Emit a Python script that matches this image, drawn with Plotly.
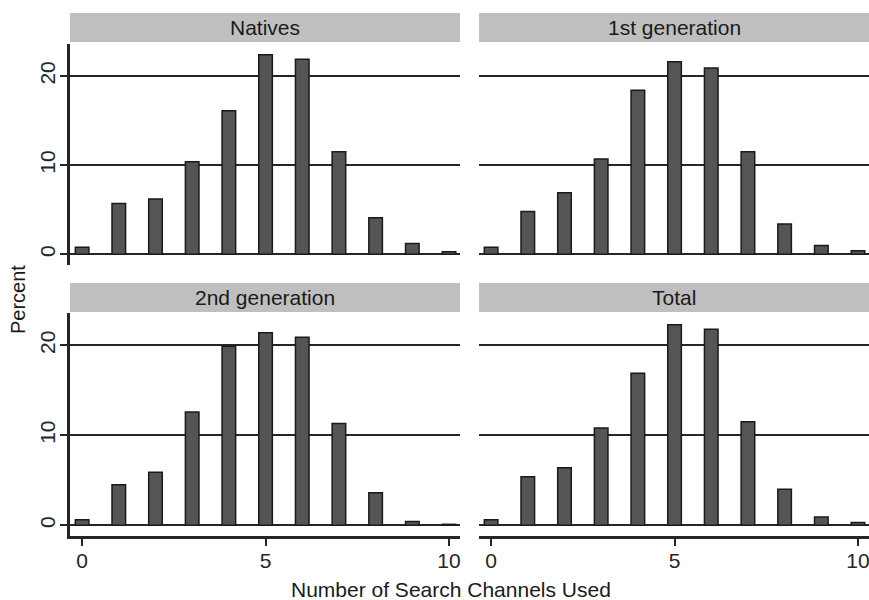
import plotly.graph_objects as go

channels = list(range(11))
natives = [0.8, 5.7, 6.2, 10.4, 16.1, 22.4, 21.9, 11.5, 4.1, 1.2, 0.3]
first_gen = [0.8, 4.8, 6.9, 10.7, 18.4, 21.6, 20.9, 11.5, 3.4, 1.0, 0.4]
second_gen = [0.6, 4.5, 5.9, 12.6, 19.9, 21.4, 20.9, 11.3, 3.6, 0.4, 0.1]
total = [0.6, 5.4, 6.4, 10.8, 16.9, 22.3, 21.8, 11.5, 4.0, 0.9, 0.3]
panel_titles = ["Natives", "1st generation", "2nd generation", "Total"]
x_ticks = [0, 5, 10]
y_ticks = [0, 10, 20]

W, H = 869, 600
FONT = "Liberation Sans, Arial, sans-serif"
DARK = "#262626"

def px_x(v):
    return v / W

def px_y(v):
    return 1 - v / H

# panel domains (pixel based)
x_left = [px_x(70), px_x(460)]
x_right = [px_x(479), 1.0]
y_top = [px_y(265), px_y(44)]
y_bot = [px_y(536), px_y(313)]

panels = [
    (natives, "x", "y", x_left, y_top, True, False),
    (first_gen, "x2", "y2", x_right, y_top, False, False),
    (second_gen, "x3", "y3", x_left, y_bot, True, True),
    (total, "x4", "y4", x_right, y_bot, False, True),
]

fig = go.Figure()
layout = {}
for i, (vals, xa, ya, xd, yd, left, bottom) in enumerate(panels):
    fig.add_trace(go.Bar(
        x=channels, y=vals, xaxis=xa, yaxis=ya, width=0.37,
        marker=dict(color="#555555", line=dict(color="#1a1a1a", width=1.5)),
        showlegend=False,
    ))
    xkey = "xaxis" if i == 0 else f"xaxis{i+1}"
    ykey = "yaxis" if i == 0 else f"yaxis{i+1}"
    layout[xkey] = dict(
        domain=xd, anchor=ya, range=[-0.33, 10.3],
        showgrid=False, zeroline=False,
        showline=bottom, linecolor=DARK, linewidth=2.5,
        ticks="outside" if bottom else "", ticklen=7, tickwidth=2, tickcolor=DARK,
        tickvals=x_ticks, showticklabels=bottom, ticklabeloverflow="allow",
        ticklabelstandoff=-3,
        tickfont=dict(family=FONT, size=21, color=DARK),
    )
    layout[ykey] = dict(
        domain=yd, anchor=xa, range=[-1.2, 23.6],
        showgrid=True, gridcolor=DARK, gridwidth=2,
        zeroline=False,
        showline=left, linecolor=DARK, linewidth=2.5,
        ticks="outside" if left else "", ticklen=7, tickwidth=2, tickcolor=DARK,
        tickvals=y_ticks, showticklabels=left, tickangle=-90,
        ticklabelstandoff=-3,
        tickfont=dict(family=FONT, size=21, color=DARK),
    )

shapes = []
annotations = []
strip_rows = [(13, 42), (13, 42), (283, 312), (283, 312)]
strip_cols = [x_left, x_right, x_left, x_right]
for t, (y0, y1), xd in zip(panel_titles, strip_rows, strip_cols):
    shapes.append(dict(type="rect", xref="paper", yref="paper",
                       x0=xd[0], x1=xd[1], y0=px_y(y1), y1=px_y(y0),
                       fillcolor="#bfbfbf", line=dict(width=0), layer="below"))
    annotations.append(dict(text=t, xref="paper", yref="paper",
                            x=(xd[0] + xd[1]) / 2, y=px_y((y0 + y1) / 2),
                            showarrow=False, xanchor="center", yanchor="middle",
                            font=dict(family=FONT, size=21, color="#1a1a1a")))

annotations.append(dict(text="Number of Search Channels Used", xref="paper", yref="paper",
                        x=px_x(451), y=px_y(589), showarrow=False,
                        xanchor="center", yanchor="middle",
                        font=dict(family=FONT, size=21, color="#1a1a1a")))
annotations.append(dict(text="Percent", xref="paper", yref="paper",
                        x=px_x(18), y=px_y(300), showarrow=False, textangle=-90,
                        xanchor="center", yanchor="middle",
                        font=dict(family=FONT, size=20, color="#1a1a1a")))

fig.update_layout(
    width=W, height=H,
    margin=dict(l=0, r=0, t=0, b=0),
    paper_bgcolor="white", plot_bgcolor="white",
    shapes=shapes, annotations=annotations,
    **layout,
)

fig.write_html("out.html")
